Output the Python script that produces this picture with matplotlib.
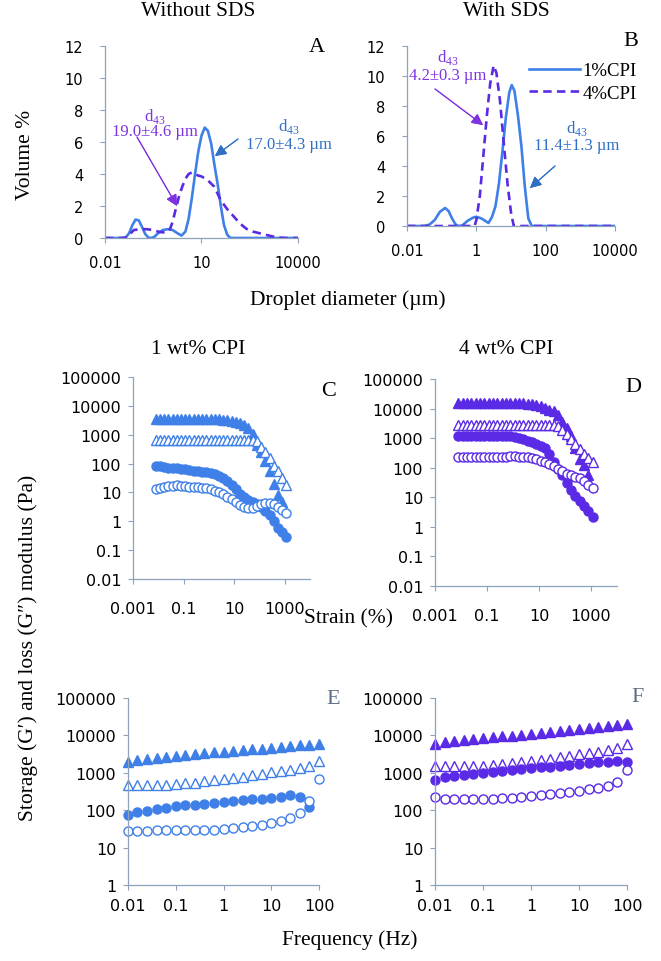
import matplotlib
matplotlib.use("Agg")
import matplotlib.pyplot as plt
import numpy as np
from matplotlib.ticker import FuncFormatter, NullLocator

# ---- droplet size distributions (diameter in um, volume %) ----
a_d_1cpi = [0.01, 0.0316, 0.0447, 0.0562, 0.0708, 0.0891, 0.112, 0.141, 0.178, 0.224,
            0.282, 0.355, 0.447, 0.631, 0.891, 1.26, 1.78, 2.4, 3.16, 3.98,
            5.01, 6.31, 7.94, 10, 12.6, 15.8, 20, 25.1, 31.6, 39.8,
            50.1, 63.1, 79.4, 10000]
a_vol_1cpi = [0, 0, 0.05, 0.3, 0.8, 1.15, 1.1, 0.7, 0.25, 0.02,
              0, 0.1, 0.3, 0.5, 0.55, 0.5, 0.3, 0.15, 0.4, 1.2,
              2.5, 4.0, 5.4, 6.4, 6.9, 6.7, 5.9, 4.6, 3.4, 2.0,
              0.8, 0.2, 0, 0]
a_d_4cpi = [0.01, 0.0398, 0.0501, 0.0631, 0.0794, 0.126, 0.2, 0.316, 0.447, 0.631,
            0.794, 1, 1.26, 1.58, 2.0, 2.51, 3.16, 3.98, 5.01, 6.31,
            7.94, 10, 15.8, 25.1, 39.8, 63.1, 100, 158, 251, 398,
            631, 1000, 1585, 2512, 3981, 10000]
a_vol_4cpi = [0, 0, 0.05, 0.3, 0.5, 0.55, 0.55, 0.5, 0.4, 0.35,
              0.38, 0.45, 1.0, 1.8, 2.6, 3.2, 3.7, 4.0, 4.1, 4.0,
              3.9, 3.85, 3.6, 3.2, 2.35, 1.8, 1.35, 0.9, 0.57, 0.4,
              0.3, 0.2, 0.1, 0.03, 0, 0]

b_d_1cpi = [0.01, 0.0316, 0.0447, 0.0631, 0.0891, 0.126, 0.158, 0.2, 0.251, 0.316,
            0.398, 0.562, 0.794, 1, 1.41, 1.78, 2.24, 2.82, 3.55, 4.47,
            5.62, 7.08, 8.91, 10.5, 12.6, 15.8, 20, 25.1, 31.6, 39.8, 10000]
b_vol_1cpi = [0, 0, 0.1, 0.4, 0.95, 1.2, 1.0, 0.5, 0.1, 0,
              0.05, 0.35, 0.55, 0.62, 0.5, 0.35, 0.2, 0.6, 1.3, 2.8,
              4.9, 7.2, 8.9, 9.4, 9.0, 7.4, 5.3, 2.6, 0.5, 0, 0]
b_d_4cpi = [0.01, 0.891, 1, 1.26, 1.58, 2.0, 2.51, 3.16, 3.8, 4.79, 6.31, 7.94, 10, 12.0, 10000]
b_vol_4cpi = [0, 0, 0.4, 2.0, 4.6, 7.3, 9.5, 10.7, 10.2, 8.4, 5.3, 2.8, 0.9, 0, 0]

# ---- amplitude sweeps (strain %, modulus Pa) ----
strain = [0.00794, 0.0117, 0.0171, 0.0251, 0.0369, 0.0541, 0.0794, 0.117, 0.171, 0.251,
          0.369, 0.541, 0.794, 1.17, 1.71, 2.51, 3.69, 5.41, 7.94, 11.7,
          17.1, 25.1, 36.9, 54.1, 79.4, 117, 171, 251, 369, 541, 794, 1170]
nan = float("nan")
c_filled_tri = [3500] * 15 + [3400, 3300, 3200, 3000, 2800, 2500, 2100, 1700, 1100, 450,
                              250, 120, 55, 20, 8, 4.5, nan]
c_open_tri = [650] * 23 + [650, 600, 380, 250, 160, 85, 55, 32, 18]
c_filled_circ = [85, 80, 76, 73, 70, 68, 66, 63, 60, 57,
                 55, 52, 50, 46, 42, 38, 32, 25, 18, 13,
                 9, 7, 5.5, 4.6, 4.0, 3.2, 2.3, 1.7, 1.0, 0.6, 0.42, 0.28]
c_open_circ = [13, 14, 15.5, 16.5, 17, 17.5, 17, 16.5, 16, 15.5,
               15, 14.5, 14, 13, 11.5, 10, 8.5, 7, 5.8, 4.8,
               3.8, 3.2, 2.9, 3.0, 3.4, 4.0, 4.4, 4.3, 4.0, 3.2, 2.5, 2.0]
d_filled_tri = [15000] * 16 + [14800, 14500, 13500, 12000, 10500, 9000, 8000, 6000, 3500,
                               2200, 1200, 450, 200, 120, 55, nan]
d_open_tri = [2800] * 23 + [2500, 1900, 1350, 900, 650, 440, 300, 210, 155]
d_filled_circ = [1200] * 11 + [1180, 1150, 1100, 1000, 930, 830, 740, 640, 540, 470,
                               300, 160, 90, 58, 30, 18, 11, 7.5, 5, 3.5, 2.1]
d_open_circ = [225, 225, 225, 225, 225, 225, 225, 225, 228, 230,
               232, 238, 242, 240, 235, 230, 225, 210, 190, 170,
               155, 135, 115, 92, 75, 62, 56, 50, 44, 36, 27, 20]

# ---- frequency sweeps (Hz, modulus Pa) ----
freq = [0.01, 0.0158, 0.0251, 0.0398, 0.0631, 0.1, 0.158, 0.251, 0.398, 0.631,
        1, 1.58, 2.51, 3.98, 6.31, 10, 15.8, 25.1, 39.8, 63.1, 100]
e_filled_tri = [2000, 2250, 2400, 2550, 2700, 2850, 3000, 3150, 3300, 3500,
                3650, 3800, 4000, 4200, 4400, 4650, 4900, 5200, 5500, 5700, 5800]
e_open_tri = [480, 470, 460, 470, 480, 500, 520, 550, 590, 630,
              680, 730, 790, 860, 930, 1020, 1100, 1200, 1350, 1550, 2100]
e_filled_circ = [76, 88, 98, 108, 118, 128, 135, 142, 150, 160,
                 170, 178, 186, 194, 202, 215, 228, 250, 225, 120, nan]
e_open_circ = [27, 27, 28, 29, 29, 29, 29, 29, 30, 30,
               31, 33, 35, 37, 40, 45, 50, 62, 85, 178, 680]
f_filled_tri = [6000, 6800, 7200, 7600, 8000, 8400, 8900, 9400, 9900, 10500,
                11200, 11800, 12500, 13200, 14000, 14800, 15700, 16600, 17800, 19000, 20000]
f_open_tri = [1550, 1500, 1500, 1500, 1500, 1550, 1620, 1700, 1800, 1950,
              2100, 2250, 2400, 2600, 2850, 3100, 3400, 3700, 4000, 4500, 5800]
f_filled_circ = [640, 760, 830, 880, 950, 1000, 1050, 1100, 1170, 1250,
                 1320, 1390, 1460, 1540, 1620, 1720, 1800, 1900, 2000, 2100, 1950]
f_open_circ = [220, 205, 200, 200, 195, 195, 200, 210, 215, 225,
               240, 250, 265, 280, 305, 330, 360, 400, 450, 570, 1200]

BLUE = "#3F80E8"
PURPLE = "#5A2AE6"
BLUE_TXT = "#2F6FC4"
PURPLE_TXT = "#7E32E2"
AXIS = "#8FA2BB"
SERIF = ["Liberation Serif", "DejaVu Serif"]

W, H = 661, 962

plt.rcParams["font.family"] = ["DejaVu Sans"]
plt.rcParams["mathtext.fontset"] = "custom"
plt.rcParams["mathtext.rm"] = "Liberation Serif"

fig = plt.figure(figsize=(W / 100, H / 100), dpi=100)


def fxy(x, y):
    return (x / W, 1 - y / H)


def add_ax(left, top, right, bottom):
    return fig.add_axes([left / W, 1 - bottom / H, (right - left) / W, (bottom - top) / H])


def style(ax, xticks, yticks, xlim, ylim, logy, size, xpad, ypad):
    ax.set_xscale("log")
    if logy:
        ax.set_yscale("log")
    ax.set_xlim(*xlim)
    ax.set_ylim(*ylim)
    ax.set_xticks(xticks)
    ax.set_yticks(yticks)
    ax.xaxis.set_minor_locator(NullLocator())
    ax.yaxis.set_minor_locator(NullLocator())
    fmt = FuncFormatter(lambda v, _: f"{v:g}")
    ax.xaxis.set_major_formatter(fmt)
    ax.yaxis.set_major_formatter(fmt)
    for s in ("top", "right"):
        ax.spines[s].set_visible(False)
    for s in ("left", "bottom"):
        ax.spines[s].set_color(AXIS)
        ax.spines[s].set_linewidth(0.9)
    ax.tick_params(length=3.5, width=0.8, color=AXIS, labelsize=size)
    ax.tick_params(axis="x", pad=xpad)
    ax.tick_params(axis="y", pad=ypad)
    ax.patch.set_alpha(0)


def sweep(ax, x, ft, ot, fc, oc, color):
    kw = dict(linestyle="none", clip_on=False, color=color)
    ax.plot(x, ft, marker="^", ms=6.5, **kw)
    ax.plot(x, ot, marker="^", ms=6.5, mfc="white", mew=1.0, **kw)
    ax.plot(x, fc, marker="o", ms=6.5, **kw)
    ax.plot(x, oc, marker="o", ms=6.5, mfc="white", mew=1.0, **kw)


def note(x, y, lines, color, tail, head):
    fig.text(*fxy(x, y[0]), r"d$_{\mathrm{43}}$", ha="center", va="center",
             color=color, fontsize=12, family=SERIF)
    fig.text(*fxy(x, y[1]), lines, ha="center", va="center",
             color=color, fontsize=12, family=SERIF)
    fig.add_artist(plt.annotate("", xy=fxy(*head), xytext=fxy(*tail),
                                xycoords="figure fraction", textcoords="figure fraction",
                                arrowprops=dict(arrowstyle="-|>", lw=0.8, color=color,
                                                mutation_scale=17, shrinkA=0, shrinkB=0)))


dash = (0, (3.2, 2.0))

# A
ax_a = add_ax(105, 47, 298, 239)
ax_a.plot(a_d_1cpi, a_vol_1cpi, color=BLUE, lw=1.9)
ax_a.plot(a_d_4cpi, a_vol_4cpi, color=PURPLE, lw=1.9, linestyle=dash)
style(ax_a, [0.01, 10, 10000], range(0, 13, 2), (0.01, 10000), (0, 12), False, 10.5, 9, 12)

# B
ax_b = add_ax(407, 47, 615, 227)
l1, = ax_b.plot(b_d_1cpi, b_vol_1cpi, color=BLUE, lw=1.9)
l4, = ax_b.plot(b_d_4cpi, b_vol_4cpi, color=PURPLE, lw=1.9, linestyle=dash)
style(ax_b, [0.01, 1, 100, 10000], range(0, 13, 2), (0.01, 10000), (0, 12), False, 10.5, 9, 12)
ax_b.legend([l1, l4], ["1%CPI", "4%CPI"], loc="upper right",
            bbox_to_anchor=fxy(637, 63), bbox_transform=fig.transFigure,
            frameon=False, handlelength=2.7, handletextpad=0.15, labelspacing=0.3,
            borderaxespad=0, borderpad=0, prop=dict(family=SERIF, size=13.5))

# C
ax_c = add_ax(133, 378, 310, 580)
sweep(ax_c, strain, c_filled_tri, c_open_tri, c_filled_circ, c_open_circ, BLUE)
style(ax_c, [0.001, 0.1, 10, 1000], [10.0 ** k for k in range(-2, 6)],
      (0.001, 10000), (0.01, 100000), True, 11.5, 12, 5)

# D
ax_d = add_ax(435, 380, 617, 587)
sweep(ax_d, strain, d_filled_tri, d_open_tri, d_filled_circ, d_open_circ, PURPLE)
style(ax_d, [0.001, 0.1, 10, 1000], [10.0 ** k for k in range(-2, 6)],
      (0.001, 10000), (0.01, 100000), True, 11.5, 12, 5)

# E
ax_e = add_ax(128, 699, 319, 886)
sweep(ax_e, freq, e_filled_tri, e_open_tri, e_filled_circ, e_open_circ, BLUE)
style(ax_e, [0.01, 0.1, 1, 10, 100], [10.0 ** k for k in range(0, 6)],
      (0.01, 100), (1, 100000), True, 11.5, 6, 5)

# F
ax_f = add_ax(435, 699, 627, 886)
sweep(ax_f, freq, f_filled_tri, f_open_tri, f_filled_circ, f_open_circ, PURPLE)
style(ax_f, [0.01, 0.1, 1, 10, 100], [10.0 ** k for k in range(0, 6)],
      (0.01, 100), (1, 100000), True, 11.5, 6, 5)

# titles and axis labels
big = dict(family=SERIF, fontsize=15.5, ha="center", va="center")
fig.text(*fxy(198, 12), "Without SDS", **big)
fig.text(*fxy(506, 12), "With SDS", **big)
fig.text(*fxy(26, 155), "Volume %", rotation=90, **big)
fig.text(*fxy(348, 300), "Droplet diameter (µm)", **big)
fig.text(*fxy(198, 350), "1 wt% CPI", **big)
fig.text(*fxy(506, 350), "4 wt% CPI", **big)
fig.text(*fxy(348, 619), "Strain (%)", **big)
fig.text(*fxy(28, 648), "Storage (G′) and loss (G″) modulus (Pa)", rotation=90, **big)
fig.text(*fxy(350, 940), "Frequency (Hz)", **big)

for letter, x, y, col in [("A", 317, 47, "black"), ("B", 631, 42, "black"),
                          ("C", 329, 392, "black"), ("D", 633, 388, "black"),
                          ("E", 333, 700, "#5C6F86"), ("F", 638, 697, "#5C6F86")]:
    fig.text(*fxy(x, y), letter, family=SERIF, fontsize=16, ha="center", va="center", color=col)

# d43 annotations
note(155, (116, 132), "19.0±4.6 µm", PURPLE_TXT, (137, 138), (177, 207))
note(289, (127, 145), "17.0±4.3 µm", BLUE_TXT, (238, 140), (215, 157))
note(448, (58, 76), "4.2±0.3 µm", PURPLE_TXT, (435, 90), (483, 126))
note(577, (129, 146), "11.4±1.3 µm", BLUE_TXT, (555, 167), (530, 189))

fig.savefig("out.png", dpi=100)
